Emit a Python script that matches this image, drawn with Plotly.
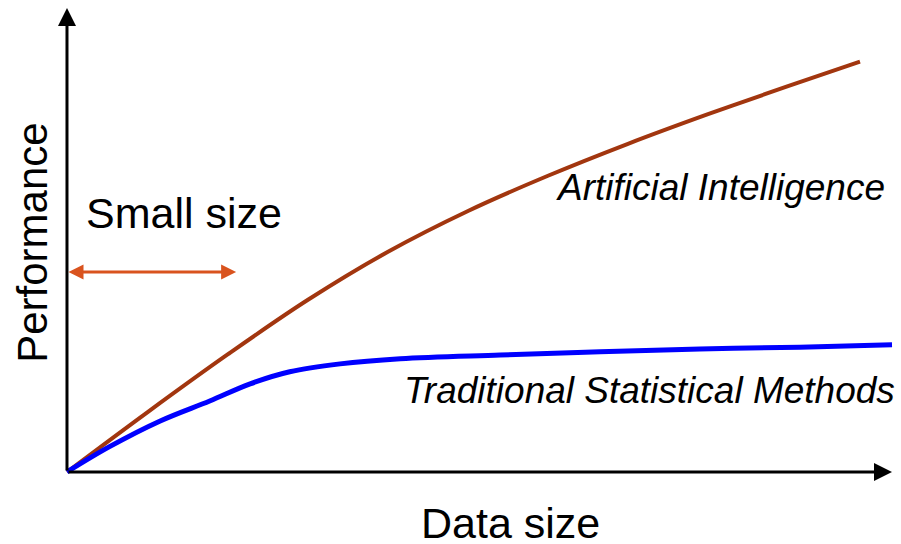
import plotly.graph_objects as go

# Data (data-size units 0..100, performance units 0..100)
ai_x = [0, 9.82, 19.52, 29.21, 38.91, 48.61, 58.30, 68.00, 77.70, 87.39, 96.12]
ai_y = [0, 12.97, 25.39, 37.11, 47.46, 56.25, 63.84, 70.73, 77.11, 83.15, 88.43]

tsm_x = [0, 5.1, 11.3, 17.3, 22.2, 27.0, 33.1, 40.4, 52.5, 64.6, 76.7, 88.8, 100]
tsm_y = [0, 5.4, 11.0, 15.3, 19.0, 21.6, 23.3, 24.4, 25.2, 25.9, 26.5, 26.9, 27.4]

small_size_range = [0, 20.5]
small_size_level = 43.1

x_axis_end = 100
y_axis_end = 100

FONT = "Liberation Sans, Arial, sans-serif"

fig = go.Figure()
fig.add_trace(go.Scatter(x=ai_x, y=ai_y, mode="lines",
                         line=dict(color="#A2360F", width=4, shape="spline"),
                         hoverinfo="skip", showlegend=False))
fig.add_trace(go.Scatter(x=tsm_x, y=tsm_y, mode="lines",
                         line=dict(color="#0000FF", width=5, shape="spline"),
                         hoverinfo="skip", showlegend=False))

annotations = [
    # axes with arrows
    dict(x=0, y=y_axis_end, ax=0, ay=0, xref="x", yref="y", axref="x", ayref="y",
         showarrow=True, arrowhead=2, arrowwidth=3, arrowsize=1.2, arrowcolor="black", text=""),
    dict(x=x_axis_end, y=0, ax=0, ay=0, xref="x", yref="y", axref="x", ayref="y",
         showarrow=True, arrowhead=2, arrowwidth=3, arrowsize=1.2, arrowcolor="black", text=""),
    # small size double arrow
    dict(x=small_size_range[1], y=small_size_level, ax=small_size_range[0], ay=small_size_level,
         xref="x", yref="y", axref="x", ayref="y", showarrow=True, arrowhead=2, startarrowhead=2,
         arrowside="end+start", arrowwidth=3, arrowsize=1.0, startarrowsize=1.0,
         arrowcolor="#D9531E", text=""),
    # texts
    dict(x=-4.12, y=49.4, xref="x", yref="y", text="Performance", showarrow=False, textangle=-90,
         font=dict(family=FONT, size=42, color="black")),
    dict(x=53.7, y=-10.9, xref="x", yref="y", text="Data size", showarrow=False,
         font=dict(family=FONT, size=43, color="black")),
    dict(x=14.2, y=55.8, xref="x", yref="y", text="Small size", showarrow=False,
         font=dict(family=FONT, size=43, color="black")),
    dict(x=79.2, y=61.4, xref="x", yref="y", text="<i>Artificial Intelligence</i>", showarrow=False,
         font=dict(family=FONT, size=37, color="black")),
    dict(x=70.6, y=17.5, xref="x", yref="y", text="<i>Traditional Statistical Methods</i>", showarrow=False,
         font=dict(family=FONT, size=37, color="black")),
]

fig.update_layout(
    width=901, height=544, autosize=False,
    margin=dict(l=0, r=0, t=0, b=0),
    paper_bgcolor="white", plot_bgcolor="white",
    xaxis=dict(visible=False, range=[-8.12, 101.09], fixedrange=True),
    yaxis=dict(visible=False, range=[-15.52, 101.72], fixedrange=True),
    annotations=annotations,
    showlegend=False,
)

fig.write_html("out.html",
               config={"displayModeBar": False, "staticPlot": True},
               post_script="document.body.style.margin='0';document.body.style.padding='0';")
